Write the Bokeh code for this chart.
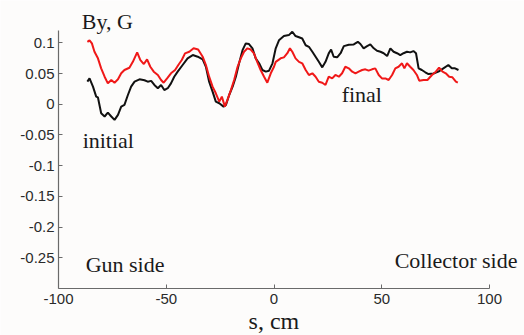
from bokeh.plotting import figure
from bokeh.models import Range1d, FixedTicker, Label
from bokeh.embed import file_html
from bokeh.resources import INLINE

# ---- data ----
s_initial = [-86.6,-85.6,-84,-82.5,-81.7,-80.2,-78.6,-77.1,-75.5,-74,-72.4,-70.9,-69.4,-67.8,-66.3,-64.7,-62.4,-60.1,-58.6,-57,-55.5,-53.9,-52.4,-50.9,-49.3,-47.8,-46.3,-44.7,-42.4,-40.1,-37.7,-35.4,-33.1,-31.6,-30.1,-28.5,-27,-25.4,-23.4,-22.3,-20.8,-19.2,-17.7,-16.2,-14.6,-13.1,-11.6,-10,-8.5,-6.9,-5.4,-3.8,-2.3,-0.7,0.8,2.3,4.6,6.9,8.5,10,11.6,13.1,14.7,16.2,17.8,19.3,20.8,22.4,23.9,25.4,26.5,27.7,29.3,30.9,32.4,34.7,37,38.9,40.1,41.6,43.2,44.7,46.3,47.8,49.4,50.9,52.5,54,55.5,57.1,58.6,60.1,61.7,63.2,64.7,65.9,67.1,68.6,70.2,71.7,74,76.3,78.6,80.9,82.5,84,85.6]
by_initial = [0.0367,0.042,0.0286,0.0124,0.011,-0.0146,-0.020,-0.0136,-0.020,-0.0255,-0.0174,-0.0038,-0.001,0.015,0.0286,0.0367,0.0405,0.039,0.0367,0.038,0.0313,0.026,0.0313,0.023,0.026,0.034,0.0448,0.053,0.0638,0.0747,0.080,0.0773,0.073,0.061,0.0367,0.0205,0.0042,0.0016,-0.0039,-0.0011,0.015,0.0286,0.0448,0.0666,0.088,0.099,0.098,0.091,0.0747,0.0666,0.0557,0.053,0.0546,0.0666,0.091,0.104,0.111,0.1125,0.118,0.111,0.109,0.107,0.096,0.0935,0.0854,0.0773,0.069,0.060,0.069,0.0828,0.089,0.0773,0.0763,0.083,0.0946,0.0968,0.0974,0.1016,0.098,0.091,0.0946,0.0974,0.091,0.087,0.0854,0.083,0.0784,0.091,0.0854,0.083,0.080,0.083,0.0854,0.0844,0.0865,0.083,0.0584,0.0557,0.052,0.049,0.050,0.053,0.0584,0.0638,0.0584,0.0584,0.0557]

s_final = [-86.6,-85.6,-84.5,-83.3,-81.7,-80.2,-78.6,-77.1,-75.5,-74,-72.4,-70.9,-69.4,-67.1,-65.5,-63.5,-62,-60.4,-58.9,-57.4,-55.8,-53.9,-52.4,-51.2,-49.6,-47.8,-45.9,-44.4,-42.8,-41.3,-39.3,-37.3,-35.2,-33.1,-31.6,-30.1,-28.5,-27,-25.4,-24.2,-22.8,-21.6,-20,-18.5,-16.9,-15.4,-13.9,-12.3,-10.8,-9.3,-7.7,-6.2,-4.6,-3.1,-1.5,0,0.8,3.1,4.6,6.2,7.4,8.5,10,11.6,13.1,14.7,16.2,17.8,19.3,20.8,22.4,23.9,25.4,27,28.5,30.1,31.6,33.1,34.7,36.3,37.8,39.3,40.9,42.4,43.9,45.5,47,48.6,50.1,51.7,53.2,54.8,56.3,57.8,59.4,60.5,61.7,63.2,64.7,66.3,67.4,69.4,71.2,73.3,75.1,76.6,78.2,79.7,81.3,82.8,84.4,85.3]
by_final = [0.1016,0.104,0.099,0.0854,0.0747,0.0584,0.0448,0.034,0.0394,0.035,0.0405,0.0503,0.0557,0.0594,0.069,0.0844,0.0719,0.0654,0.073,0.061,0.053,0.0476,0.0394,0.035,0.042,0.0503,0.0557,0.0638,0.0719,0.0828,0.0854,0.091,0.089,0.0773,0.0638,0.0448,0.0286,0.0178,0.0042,0.0124,-0.0039,0.007,0.023,0.0394,0.061,0.0747,0.0854,0.091,0.089,0.0828,0.068,0.0557,0.0448,0.035,0.0503,0.061,0.069,0.0747,0.0763,0.083,0.091,0.0854,0.0747,0.069,0.0666,0.0557,0.0476,0.0503,0.0448,0.0367,0.035,0.0313,0.0448,0.042,0.0476,0.0448,0.0503,0.061,0.0584,0.053,0.0503,0.053,0.0557,0.0568,0.0546,0.0568,0.0584,0.0476,0.042,0.042,0.0394,0.0476,0.0584,0.061,0.0666,0.0584,0.0666,0.061,0.0557,0.0476,0.0383,0.0394,0.0394,0.0476,0.053,0.0594,0.053,0.0503,0.0448,0.0438,0.0367,0.035]

x_ticks = [-100, -50, 0, 50, 100]
x_tick_labels = ["-100", "-50", "0", "50", "100"]
y_ticks = [-0.25, -0.2, -0.15, -0.1, -0.05, 0, 0.05, 0.1]
y_tick_labels = ["-0.25", "-0.2", "-0.15", "-0.1", "-0.05", "0", "0.05", "0.1"]
x_axis_span = (-100, 100)
y_axis_span = (-0.3, 0.12)

# frame fills the whole canvas; axes are pinned at the lower-left corner of the box
W, H = 524, 335
left_px, bottom_px = 58, 288
px_per_x = 431 / 200.0
px_per_y = 258 / 0.42
x0 = x_axis_span[0] - left_px / px_per_x
x1 = x_axis_span[0] + (W - left_px) / px_per_x
y0 = y_axis_span[0] - (H - bottom_px) / px_per_y
y1 = y_axis_span[0] + bottom_px / px_per_y

bg = "#fdfcfb"
p = figure(width=W, height=H, output_backend="svg", toolbar_location=None,
           x_range=Range1d(x0, x1), y_range=Range1d(y0, y1),
           min_border=0, background_fill_color=bg, border_fill_color=bg)
p.outline_line_color = None
p.grid.visible = False

for ax in (p.xaxis[0], p.yaxis[0]):
    ax.axis_line_color = "#6a6a6a"
    ax.axis_line_width = 1.2
    ax.major_tick_line_color = "#6a6a6a"
    ax.major_tick_in = 4
    ax.major_tick_out = 0
    ax.minor_tick_line_color = None
    ax.major_label_text_font = "Liberation Sans"
    ax.major_label_text_font_size = "15px"
    ax.major_label_text_color = "#2a2a2a"

p.xaxis.fixed_location = y_axis_span[0]
p.yaxis.fixed_location = x_axis_span[0]
p.xaxis.bounds = x_axis_span
p.yaxis.bounds = y_axis_span

p.xaxis.ticker = FixedTicker(ticks=x_ticks)
p.xaxis.major_label_overrides = {t: l for t, l in zip(x_ticks, x_tick_labels)}
p.xaxis.major_label_standoff = 5
p.yaxis.ticker = FixedTicker(ticks=y_ticks)
p.yaxis.major_label_overrides = {t: l for t, l in zip(y_ticks, y_tick_labels)}
p.yaxis.major_label_standoff = 4

p.line(s_initial, by_initial, line_color="#111111", line_width=2)
p.line(s_final, by_final, line_color="#f01818", line_width=2)

def lab(x, y, t, size):
    p.add_layout(Label(x=x, y=y, text=t, text_font="Liberation Serif",
                       text_font_size=size, text_color="#1a1a1a",
                       text_baseline="alphabetic", text_align="left"))

lab(-89.2, 0.1352, "By, G", "22px")
lab(-88.8, -0.0598, "initial", "22px")
lab(31.4, 0.0151, "final", "22px")
lab(-87.4, -0.2616, "Gun side", "22px")
lab(56.0, -0.2552, "Collector side", "22px")
lab(-11.8, -0.3530, "s, cm", "24px")

open("out.html", "w").write(file_html(p, INLINE))
